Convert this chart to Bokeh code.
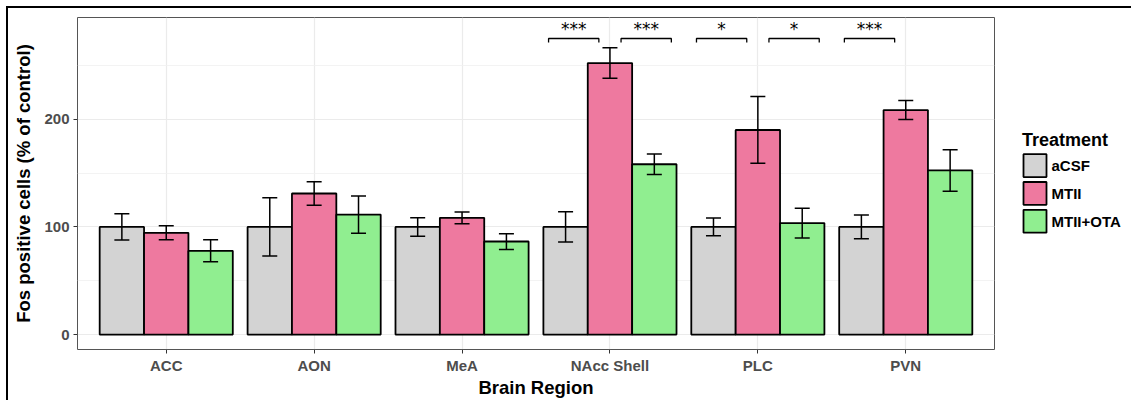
from bokeh.plotting import figure
from bokeh.layouts import row
from bokeh.models import ColumnDataSource, Range1d, FixedTicker, Whisker, TeeHead
from bokeh.core.properties import value
from bokeh.embed import file_html
from bokeh.resources import INLINE

# Fos-positive cell counts (% of aCSF control), mean and SEM per brain region
regions = ["ACC", "AON", "MeA", "NAcc Shell", "PLC", "PVN"]
treatments = ["aCSF", "MTII", "MTII+OTA"]

acsf_mean = [100, 100, 100, 100, 100, 100]
acsf_sem = [12.2, 27.1, 8.6, 14.1, 8.3, 11.1]
mtii_mean = [94.5, 131.0, 108.4, 252.2, 190.0, 208.5]
mtii_sem = [6.5, 11.0, 5.4, 14.1, 31.0, 8.8]
ota_mean = [77.8, 111.4, 86.4, 158.2, 103.5, 152.4]
ota_sem = [10.2, 17.2, 7.3, 9.5, 13.9, 19.3]

# significance comparisons
comp_region = ["NAcc Shell", "NAcc Shell", "PLC", "PLC", "PVN"]
comp_first = ["aCSF", "MTII", "aCSF", "MTII", "aCSF"]
comp_second = ["MTII", "MTII+OTA", "MTII", "MTII+OTA", "MTII"]
comp_label = ["***", "***", "*", "*", "***"]
sig_y = 275

y_ticks = [0, 100, 200]

colors = {"aCSF": "#d3d3d3", "MTII": "#ee799f", "MTII+OTA": "#90ee90"}
means = {"aCSF": acsf_mean, "MTII": mtii_mean, "MTII+OTA": ota_mean}
sems = {"aCSF": acsf_sem, "MTII": mtii_sem, "MTII+OTA": ota_sem}

dodge = 0.3
offsets = {t: (i - 1) * dodge for i, t in enumerate(treatments)}
FONT = "Liberation Sans"
TOTAL_W, TOTAL_H = 1123, 392
MAIN_W = 988
BORDER_TOP, BORDER_BOTTOM = 9, 49
FRAME_H = TOTAL_H - BORDER_TOP - BORDER_BOTTOM

p = figure(width=MAIN_W, height=TOTAL_H, output_backend="svg", toolbar_location=None,
           x_range=Range1d(0.4, 6.6), y_range=Range1d(-13.9, 294.5),
           min_border_left=69, min_border_right=2, min_border_top=BORDER_TOP,
           min_border_bottom=BORDER_BOTTOM)

p.background_fill_color = "white"
p.border_fill_color = "white"
p.outline_line_color = "#555555"
p.outline_line_width = 1

# grid
p.xgrid.ticker = FixedTicker(ticks=list(range(1, len(regions) + 1)))
p.xgrid.grid_line_color = "#ebebeb"
p.xgrid.grid_line_width = 1.2
p.ygrid.ticker = FixedTicker(ticks=y_ticks, minor_ticks=[50, 150, 250])
p.ygrid.grid_line_color = "#ebebeb"
p.ygrid.grid_line_width = 1.2
p.ygrid.minor_grid_line_color = "#f0f0f0"
p.ygrid.minor_grid_line_width = 0.8

# axes
xa = p.xaxis[0]
xa.ticker = FixedTicker(ticks=list(range(1, len(regions) + 1)))
xa.major_label_overrides = {i + 1: r for i, r in enumerate(regions)}
xa.axis_label = "Brain Region"
ya = p.yaxis[0]
ya.ticker = FixedTicker(ticks=y_ticks, minor_ticks=[])
ya.axis_label = "Fos positive cells (% of control)"
for ax in (xa, ya):
    ax.axis_line_color = None
    ax.major_tick_line_color = "#333333"
    ax.major_tick_line_width = 1
    ax.major_tick_out = 4
    ax.major_tick_in = 0
    ax.minor_tick_line_color = None
    ax.major_label_text_font = FONT
    ax.major_label_text_font_style = "bold"
    ax.major_label_text_font_size = "15px"
    ax.major_label_text_color = "#4d4d4d"
    ax.major_label_standoff = 4
    ax.axis_label_text_font = FONT
    ax.axis_label_text_font_style = "bold"
    ax.axis_label_text_font_size = "18.5px"
    ax.axis_label_text_color = "black"
ya.axis_label_standoff = 7
xa.major_label_standoff = 3
xa.axis_label_standoff = 0

# bars and error bars
bar_style = dict(line_color="black", line_width=1.8)
for t in treatments:
    xs = [i + 1 + offsets[t] for i in range(len(regions))]
    m = means[t]
    s = sems[t]
    src = ColumnDataSource(dict(x=xs, top=m,
                                upper=[a + b for a, b in zip(m, s)],
                                lower=[a - b for a, b in zip(m, s)]))
    p.vbar(x="x", top="top", bottom=0, width=dodge, source=src,
           fill_color=colors[t], **bar_style)
    w = Whisker(source=src, base="x", upper="upper", lower="lower",
                line_color="black", line_width=1.5, level="overlay",
                upper_head=TeeHead(size=15, line_color="black", line_width=1.5),
                lower_head=TeeHead(size=15, line_color="black", line_width=1.5))
    p.add_layout(w)

# significance brackets
inner, outer, drop = 0.075, 0.415, 3.7
bxs, bys, sx, sy = [], [], [], []
for reg, a, b, lab in zip(comp_region, comp_first, comp_second, comp_label):
    c = regions.index(reg) + 1
    side = -1 if (offsets[a] + offsets[b]) < 0 else 1
    x0, x1 = sorted([c + side * inner, c + side * outer])
    bxs.append([x0, x0, x1, x1])
    bys.append([sig_y - drop, sig_y, sig_y, sig_y - drop])
    sx.append((x0 + x1) / 2)
    sy.append(sig_y + 9)
p.multi_line(xs=bxs, ys=bys, line_color="black", line_width=1.3)
p.text(x=sx, y=sy, text=comp_label, text_align="center", text_baseline="middle",
       text_font=value("DejaVu Sans"), text_font_size="17px", text_color="black")

# legend panel to the right of the plot; its frame lines up with the main frame,
# so its ranges are set in pixels of that frame
LG_W = TOTAL_W - MAIN_W
lg = figure(width=LG_W, height=TOTAL_H, output_backend="svg",
            toolbar_location=None, x_range=Range1d(0, LG_W),
            y_range=Range1d(0, FRAME_H), min_border=0,
            min_border_top=BORDER_TOP, min_border_bottom=BORDER_BOTTOM)
lg.axis.visible = False
lg.grid.visible = False
lg.outline_line_color = None
lg.background_fill_color = "white"

key_x, key_size, key_step, first_key_y = 38.5, 23, 28, 185
key_ys = [first_key_y - i * key_step for i in range(len(treatments))]
lg.rect(x=[key_x] * len(treatments), y=key_ys, width=key_size, height=key_size,
        fill_color=[colors[t] for t in treatments], **bar_style)
lg.text(x=[key_x + key_size / 2 + 5] * len(treatments), y=key_ys, text=treatments,
        text_baseline="middle", text_align="left", text_font=value(FONT),
        text_font_style="bold", text_font_size="15px", text_color="black")
lg.text(x=[key_x - key_size / 2 - 1.5], y=[first_key_y + 26], text=["Treatment"],
        text_baseline="middle", text_align="left", text_font=value(FONT),
        text_font_style="bold", text_font_size="18px", text_color="black")

layout = row(p, lg, spacing=0)
layout.styles = {"margin-left": "6px", "margin-top": "6px",
                 "border-left": "2px solid black", "border-top": "2px solid black"}

open("out.html", "w").write(file_html(layout, INLINE))
